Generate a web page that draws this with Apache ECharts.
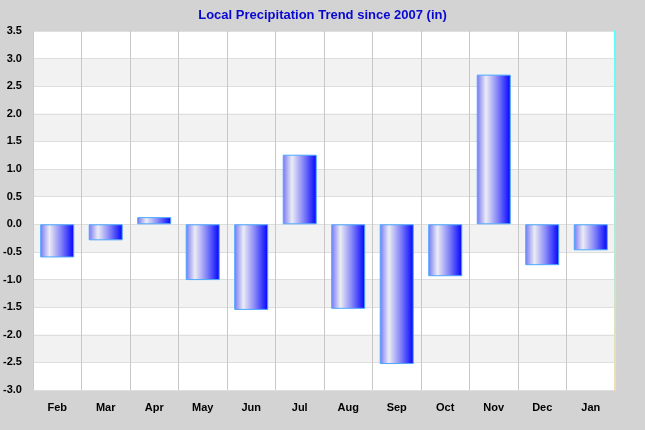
<!DOCTYPE html>
<html><head><meta charset="utf-8">
<script src="https://cdn.jsdelivr.net/npm/echarts@6/dist/echarts.min.js"></script>
<style>html,body{margin:0;padding:0;background:#d3d3d3}#c{width:645px;height:430px}</style>
</head><body><div id="c"></div>
<script>
var categories = ['Feb','Mar','Apr','May','Jun','Jul','Aug','Sep','Oct','Nov','Dec','Jan'];
var values = [-0.60, -0.29, 0.13, -1.01, -1.55, 1.26, -1.53, -2.53, -0.94, 2.71, -0.74, -0.47];
var titleText = 'Local Precipitation Trend since 2007 (in)';

var chart = echarts.init(document.getElementById('c'), null, {renderer:'canvas'});
var barGrad = new echarts.graphic.LinearGradient(0,0,1,0,[
  {offset:0, color:'#7474f4'},
  {offset:0.27, color:'#ececf4'},
  {offset:0.6, color:'#8888f8'},
  {offset:1, color:'#0000ff'}
]);
chart.setOption({
  backgroundColor:'#d3d3d3',
  animation:false,
  title:{text:titleText,left:'center',top:4,textStyle:{color:'#0808d0',fontFamily:'Liberation Sans, Arial',fontWeight:'bold',fontSize:13}},
  grid:{left:30,right:30,top:31,bottom:40},
  xAxis:{type:'category',data:categories,
    axisLine:{show:false},axisTick:{show:false},
    axisLabel:{color:'#000',fontWeight:'bold',fontSize:11,fontFamily:'Liberation Sans, Arial',margin:12},
    splitLine:{show:true,interval:0,lineStyle:{color:'#c8c8c8',width:1}}
  },
  yAxis:[{type:'value',min:-3,max:3.5,interval:0.5,
    axisLine:{show:false},axisTick:{show:false},
    axisLabel:{color:'#000',fontWeight:'bold',fontSize:11,fontFamily:'Liberation Sans, Arial',margin:11,formatter:function(v){return v.toFixed(1);}},
    splitLine:{show:true,lineStyle:{color:'#dedede',width:1}},
    splitArea:{show:true,areaStyle:{color:['#ffffff','#f2f2f2']}}
  },{type:'value',min:-3,max:3.5,interval:0.5,position:'right',
    axisLine:{show:true,lineStyle:{width:2,color:new echarts.graphic.LinearGradient(0,0,0,1,[{offset:0,color:'#55ffff'},{offset:1,color:'#f5dcb4'}])}},
    axisTick:{show:false},axisLabel:{show:false},splitLine:{show:false}
  }],
  series:[{type:'bar',data:values,barWidth:34,
    itemStyle:{color:barGrad,borderColor:'#4aa8ff',borderWidth:1}
  }]
});
</script></body></html>
